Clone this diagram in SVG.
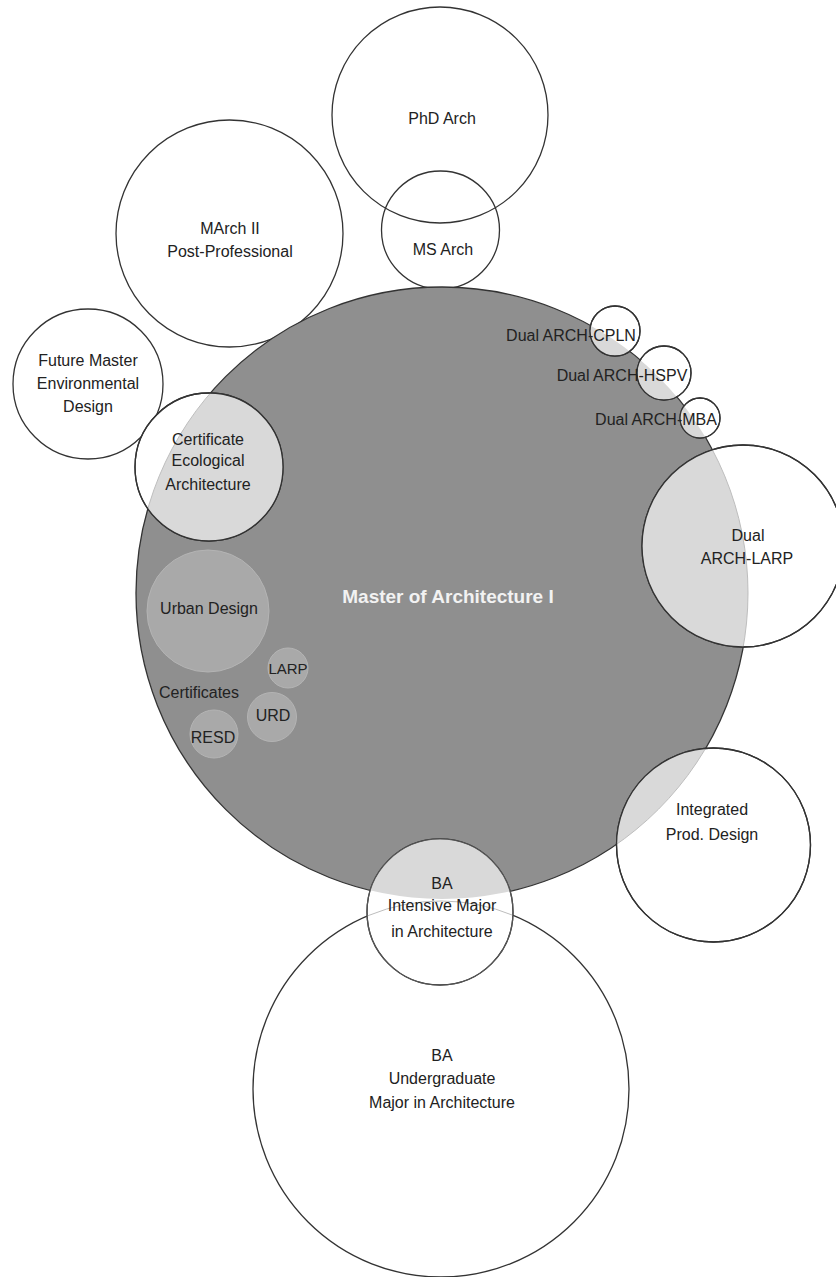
<svg xmlns="http://www.w3.org/2000/svg" width="836" height="1277" viewBox="0 0 836 1277">
<style>
.c{fill:#fff;stroke:#333;stroke-width:1.3}
.o{fill:none;stroke:#333;stroke-width:1.3}
.lens{fill:#d9d9d9;stroke:none}
.sub{fill:#a9a9a9;stroke:#b4b4b4;stroke-width:1}
.edge{fill:none;stroke:#bdbdbd;stroke-width:1}
text{font-family:"Liberation Sans",Arial,sans-serif;font-size:16px;fill:#222;text-anchor:middle}
.main{font-weight:bold;font-size:19px;fill:#f2f2f2}
</style>
<defs>
<clipPath id="mainClip"><circle cx="442" cy="593" r="306"/></clipPath>
<clipPath id="baiClip"><circle cx="440" cy="912" r="73"/></clipPath>
<clipPath id="certClip"><circle cx="209" cy="467" r="74"/></clipPath>
<clipPath id="larpClip"><circle cx="743" cy="546" r="101"/></clipPath>
<clipPath id="intClip"><circle cx="713.5" cy="845" r="97"/></clipPath>
</defs>
<rect width="836" height="1277" fill="#fff"/>

<g id="phd">
<circle class="c" cx="440" cy="115" r="108"/>
<text x="442" y="124">PhD Arch</text>
</g>
<g id="msarch">
<circle class="o" cx="440.5" cy="230" r="59"/>
<text x="443" y="255">MS Arch</text>
</g>
<g id="march2">
<circle class="c" cx="229.5" cy="233.5" r="113.5"/>
<text x="230" y="234">MArch II</text>
<text x="230" y="257">Post-Professional</text>
</g>
<g id="future">
<circle class="c" cx="88" cy="384" r="75"/>
<text x="88" y="366">Future Master</text>
<text x="88" y="389">Environmental</text>
<text x="88" y="412">Design</text>
</g>
<g id="ba-undergrad">
<circle class="c" cx="441" cy="1089" r="188"/>
<text x="442" y="1061">BA</text>
<text x="442" y="1084">Undergraduate</text>
<text x="442" y="1108">Major in Architecture</text>
</g>

<g id="march1">
<circle cx="442" cy="593" r="306" fill="#8f8f8f" stroke="#333" stroke-width="1.3"/>
<text class="main" x="448" y="603">Master of Architecture I</text>
</g>

<g id="urban">
<circle class="sub" cx="208" cy="611" r="61"/>
<text x="209" y="614">Urban Design</text>
</g>
<g id="larp-cert">
<circle class="sub" cx="288" cy="668" r="20"/>
<text x="288" y="674" style="font-size:15px">LARP</text>
</g>
<g id="urd-cert">
<circle class="sub" cx="272" cy="717" r="24.5"/>
<text x="273" y="721">URD</text>
</g>
<g id="resd-cert">
<circle class="sub" cx="214" cy="734" r="24"/>
<text x="213" y="743">RESD</text>
</g>
<g id="certificates-label">
<text x="199" y="698">Certificates</text>
</g>

<g id="cert-eco">
<circle class="c" cx="209" cy="467" r="74"/>
<circle class="lens" cx="209" cy="467" r="74" clip-path="url(#mainClip)"/>
<circle class="edge" cx="442" cy="593" r="306" clip-path="url(#certClip)"/>
<circle class="o" cx="209" cy="467" r="74"/>
<text x="208" y="445">Certificate</text>
<text x="208" y="466">Ecological</text>
<text x="208" y="490">Architecture</text>
</g>

<g id="dual-larp">
<circle class="c" cx="743" cy="546" r="101"/>
<circle class="lens" cx="743" cy="546" r="101" clip-path="url(#mainClip)"/>
<circle class="edge" cx="442" cy="593" r="306" clip-path="url(#larpClip)"/>
<circle class="o" cx="743" cy="546" r="101"/>
<text x="748" y="541">Dual</text>
<text x="747" y="564">ARCH-LARP</text>
</g>

<g id="integrated">
<circle class="c" cx="713.5" cy="845" r="97"/>
<circle class="lens" cx="713.5" cy="845" r="97" clip-path="url(#mainClip)"/>
<circle class="edge" cx="442" cy="593" r="306" clip-path="url(#intClip)"/>
<circle class="o" cx="713.5" cy="845" r="97"/>
<text x="712" y="815">Integrated</text>
<text x="712" y="840">Prod. Design</text>
</g>

<g id="dual-cpln">
<circle class="c" cx="615" cy="331" r="25"/>
<circle class="lens" cx="615" cy="331" r="25" clip-path="url(#mainClip)"/>
<circle class="o" cx="615" cy="331" r="25"/>
<text x="571" y="341">Dual ARCH-CPLN</text>
</g>
<g id="dual-hspv">
<circle class="c" cx="664" cy="373" r="27"/>
<circle class="lens" cx="664" cy="373" r="27" clip-path="url(#mainClip)"/>
<circle class="o" cx="664" cy="373" r="27"/>
<text x="622" y="381">Dual ARCH-HSPV</text>
</g>
<g id="dual-mba">
<circle class="c" cx="700" cy="418" r="20"/>
<circle class="lens" cx="700" cy="418" r="20" clip-path="url(#mainClip)"/>
<circle class="o" cx="700" cy="418" r="20"/>
<text x="656" y="425">Dual ARCH-MBA</text>
</g>

<g id="ba-intensive">
<circle class="c" cx="440" cy="912" r="73"/>
<circle class="lens" cx="440" cy="912" r="73" clip-path="url(#mainClip)"/>
<circle class="edge" cx="441" cy="1089" r="188" clip-path="url(#baiClip)"/>
<circle cx="440" cy="912" r="73" fill="none" stroke="#555" stroke-width="1.2"/>
<text x="442" y="889">BA</text>
<text x="442" y="911">Intensive Major</text>
<text x="442" y="937">in Architecture</text>
</g>

<g id="connectors"></g>
</svg>
